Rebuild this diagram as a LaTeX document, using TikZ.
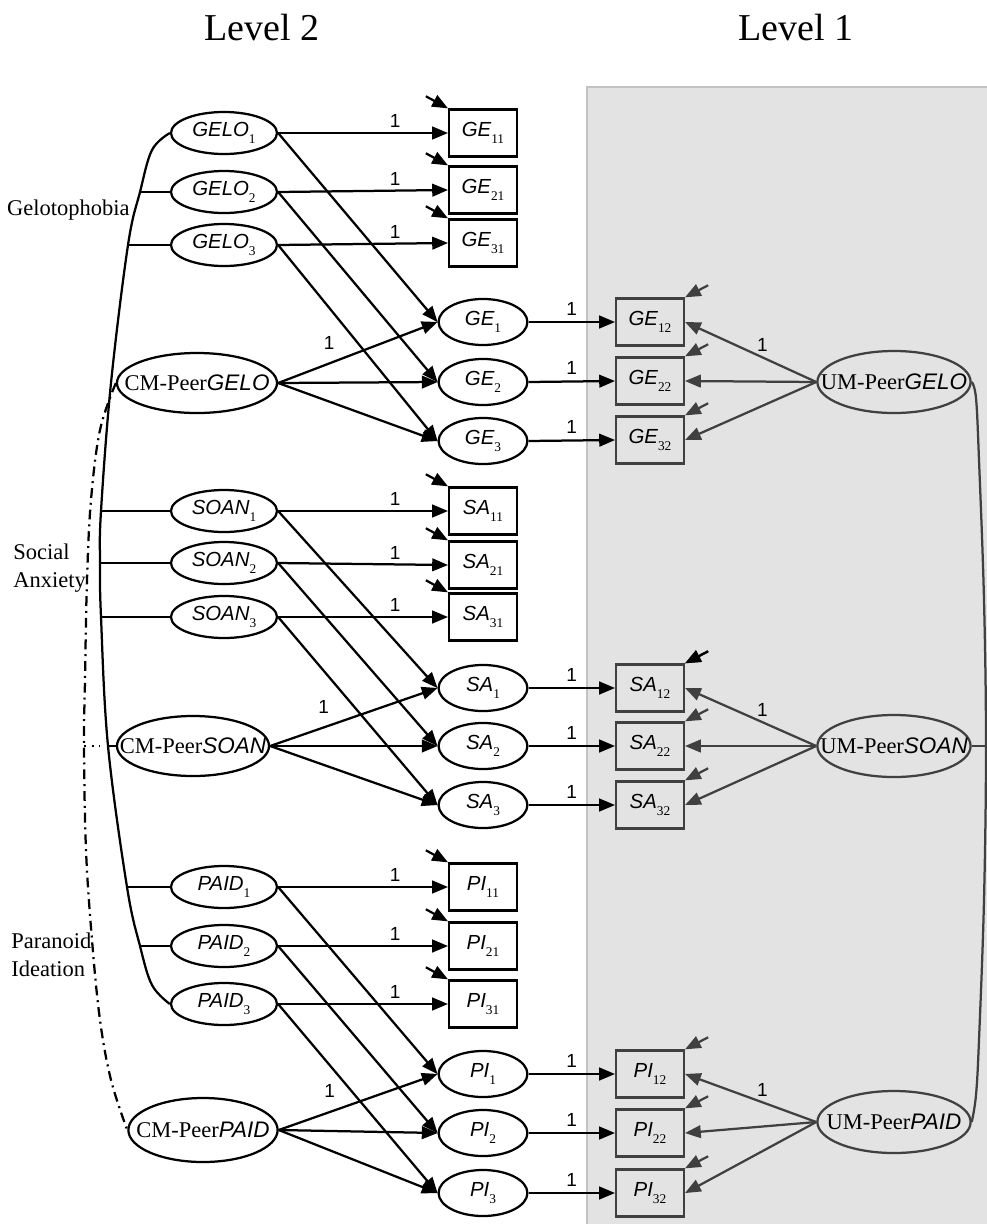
\documentclass[tikz,border=0pt]{standalone}
\usepackage{fontspec}
\setmainfont{Liberation Serif}
\setsansfont{Liberation Sans}
\usetikzlibrary{arrows, calc, positioning, shapes.geometric}
\newcommand{\drawe}{\draw[line width=1.6pt]}
\newcommand{\drawg}{\draw[line width=1.6pt, color=black!75]}
\newcommand{\lv}[2]{{\sffamily\itshape #1}\raisebox{-0.75ex}{\fontsize{9.5}{10}\selectfont #2}}
\newcommand{\peer}[2]{\makebox[0pt]{#1-Peer{\sffamily\itshape #2}}}

\begin{document}
\begin{tikzpicture}[x=0.025cm, y=-0.025cm, >=triangle 45,
  ind/.style={draw, ellipse, line width=1.6pt, inner sep=0pt, minimum width=2.65cm, minimum height=1.05cm, font=\fontsize{14.5}{16}\selectfont},
  mid/.style={ind, minimum width=2.22cm, minimum height=1.15cm},
  cmlat/.style={ind, minimum width=3.85cm, minimum height=1.5cm, font=\fontsize{16}{18}\selectfont},
  umlat/.style={cmlat, draw=black!75, minimum width=3.83cm, minimum height=1.55cm},
  obs/.style={draw, rectangle, line width=1.6pt, inner sep=0pt, minimum width=1.7cm, minimum height=1.18cm, font=\fontsize{14.5}{16}\selectfont},
  gobs/.style={obs, draw=black!75},
  one/.style={font=\sffamily\fontsize{13.5}{15}\selectfont, inner sep=1pt},
  txt/.style={font=\fontsize{16}{18}\selectfont, inner sep=0pt}]
\useasboundingbox (0,0) rectangle (987,1224);
%\draw[color=blue] (0,0) grid[step=50] (987,1224);
% Level 1 panel
\fill[black!11] (587,87) rectangle (1000,1240);
\draw[black!24, line width=2pt] (587,1240) -- (587,87) -- (1000,87);
\node[font=\fontsize{27}{30}\selectfont, anchor=base] (lev2) at (262,40) {Level 2};
\node[font=\fontsize{27}{30}\selectfont, anchor=base] (lev1) at (796,40) {Level 1};
% Level 2 indicators
\node[ind] (GELO1) at (224,133) {\lv{GELO}{1}};
\node[ind] (GELO2) at (224,192) {\lv{GELO}{2}};
\node[ind] (GELO3) at (224,245) {\lv{GELO}{3}};
\node[ind] (SOAN1) at (224,511) {\lv{SOAN}{1}};
\node[ind] (SOAN2) at (224,563) {\lv{SOAN}{2}};
\node[ind] (SOAN3) at (224,617) {\lv{SOAN}{3}};
\node[ind] (PAID1) at (224,887) {\lv{PAID}{1}};
\node[ind] (PAID2) at (224,946) {\lv{PAID}{2}};
\node[ind] (PAID3) at (224,1004) {\lv{PAID}{3}};
\node[obs] (GE11) at (483,133) {\lv{GE}{11}};
\node[obs] (GE21) at (483,190) {\lv{GE}{21}};
\node[obs] (GE31) at (483,243) {\lv{GE}{31}};
\node[obs] (SA11) at (483,511) {\lv{SA}{11}};
\node[obs] (SA21) at (483,565) {\lv{SA}{21}};
\node[obs] (SA31) at (483,617) {\lv{SA}{31}};
\node[obs] (PI11) at (483,887) {\lv{PI}{11}};
\node[obs] (PI21) at (483,946) {\lv{PI}{21}};
\node[obs] (PI31) at (483,1004) {\lv{PI}{31}};
% between-level factors
\node[mid] (GE1) at (483,322) {\lv{GE}{1}};
\node[mid] (GE2) at (483,382) {\lv{GE}{2}};
\node[mid] (GE3) at (483,441) {\lv{GE}{3}};
\node[mid] (SA1) at (483,688) {\lv{SA}{1}};
\node[mid] (SA2) at (483,746) {\lv{SA}{2}};
\node[mid] (SA3) at (483,805) {\lv{SA}{3}};
\node[mid] (PI1) at (483,1074) {\lv{PI}{1}};
\node[mid] (PI2) at (483,1133) {\lv{PI}{2}};
\node[mid] (PI3) at (483,1193) {\lv{PI}{3}};
\node[cmlat, minimum width=4cm] (CMGELO) at (197,383) {\peer{CM}{GELO}};
\node[cmlat, minimum width=3.8cm] (CMSOAN) at (193,746) {\peer{CM}{SOAN}};
\node[cmlat, minimum width=3.73cm, minimum height=1.6cm] (CMPAID) at (203,1130) {\peer{CM}{PAID}};
% Level 1
\node[gobs] (GE12) at (650,322) {\lv{GE}{12}};
\node[gobs] (GE22) at (650,381) {\lv{GE}{22}};
\node[gobs] (GE32) at (650,440) {\lv{GE}{32}};
\node[gobs] (SA12) at (650,688) {\lv{SA}{12}};
\node[gobs] (SA22) at (650,746) {\lv{SA}{22}};
\node[gobs] (SA32) at (650,805) {\lv{SA}{32}};
\node[gobs] (PI12) at (650,1074) {\lv{PI}{12}};
\node[gobs] (PI22) at (650,1133) {\lv{PI}{22}};
\node[gobs] (PI32) at (650,1193) {\lv{PI}{32}};
\node[umlat] (UMGELO) at (894,382) {\peer{UM}{GELO}};
\node[umlat] (UMSOAN) at (894,746) {\peer{UM}{SOAN}};
\node[umlat] (UMPAID) at (894,1122) {\peer{UM}{PAID}};
% construct labels
\node[txt, anchor=base east] (tgelo) at (130,215) {Gelotophobia};
\node[txt, anchor=base west] (tsoan) at (13,559) {Social};
\node[txt, anchor=base west] (tsoan2) at (13,587) {Anxiety};
\node[txt, anchor=base west] (tpaid) at (11,948) {Paranoid};
\node[txt, anchor=base west] (tpaid2) at (11,976) {Ideation};
% paths
\foreach \a/\b in {GE/GELO, SA/SOAN, PI/PAID}{
  \foreach \i in {1,2,3}{
    \drawe[->] (\b\i.east) -- node[pos=.69, above=2pt, one] {1} (\a\i1.west);
    \drawe[->] (\b\i.east) -- (\a\i.west);
    \drawe[->] (CM\b.east) -- (\a\i.west);
    \drawe[->] (\a\i.east) -- node[above=3pt, one] {1} (\a\i2.west);
    \drawg[->] (UM\b.west) -- (\a\i2.east);
    \drawe[->] ($(\a\i1.north west)+(-22,-12)$) -- (\a\i1.north west);
    \drawg[->] ($(\a\i2.north east)+(23,-12)$) -- (\a\i2.north east);
  }
  \path (CM\b.east) -- node[pos=.32, above=9pt, one] {1} (\a1.west);
  \path (UM\b.west) -- node[pos=.41, above=3pt, one] {1} (\a12.east);
}
\drawe[->] ($(SA12.north east)+(23,-12)$) -- (SA12.north east);
% left correlations
\coordinate (c2) at (140,192);
\coordinate (c3) at (128,245);
\coordinate (s1) at (101,511);
\coordinate (s2) at (100,563);
\coordinate (s3) at (101,617);
\coordinate (cs) at (108,746);
\coordinate (p1) at (127,887);
\coordinate (p2) at (140,946);
\drawe plot[smooth, tension=0.6] coordinates {(GELO1.west) (152,150) (c2) (c3) (111,383) (s1) (s2) (s3) (cs) (p1) (p2) (152,985) (PAID3.west)};
\drawe (c2) -- (GELO2.west);
\drawe (c3) -- (GELO3.west);
\drawe (s1) -- (SOAN1.west);
\drawe (s2) -- (SOAN2.west);
\drawe (s3) -- (SOAN3.west);
\drawe (cs) -- (CMSOAN.west);
\drawe (p1) -- (PAID1.west);
\drawe (p2) -- (PAID2.west);
\coordinate (d2) at (84,746);
\coordinate (d2e) at (100,746);
\draw[line width=1.6pt, dash pattern=on 7pt off 3.5pt on 1.4pt off 3.5pt] plot[smooth, tension=0.6] coordinates {(CMGELO.west) (100,430) (91,500) (87,580) (85,680) (d2) (86,850) (92,940) (100,1020) (111,1080) (CMPAID.west)};
\draw[line width=1.6pt, dash pattern=on 1.4pt off 4pt] (d2) -- (d2e);
% right correlations
\coordinate (r2) at (986,746);
\drawg plot[smooth, tension=0.6] coordinates {(UMGELO.east) (976,398) (979,460) (984,600) (r2) (984,900) (979,1040) (976,1095) (UMPAID.east)};
\drawg (UMSOAN.east) -- (r2);
\end{tikzpicture}
\end{document}
